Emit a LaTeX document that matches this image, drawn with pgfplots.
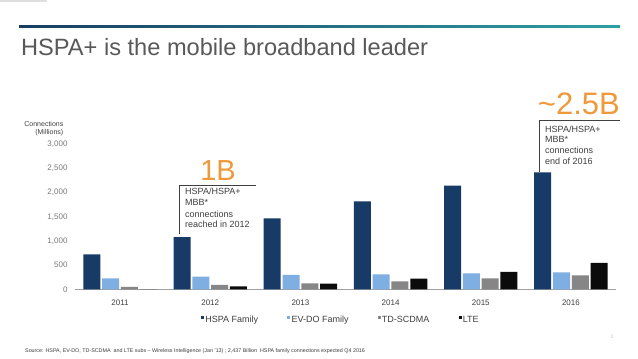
\documentclass[border=0pt]{standalone}
\usepackage{fontspec}
\setmainfont{Liberation Sans}
\usepackage{pgfplots}
\pgfplotsset{compat=1.18}
\definecolor{hspa}{HTML}{173B66}
\definecolor{evdo}{HTML}{7FAEE2}
\definecolor{tds}{HTML}{868686}
\definecolor{lte}{HTML}{0B0B0B}
\definecolor{orangeA}{HTML}{F0993A}
\definecolor{titlegray}{HTML}{595959}
\definecolor{txt}{HTML}{3F3F3F}
\definecolor{ticky}{HTML}{7A7A7A}
\definecolor{lineL}{HTML}{1C3C62}
\definecolor{lineR}{HTML}{2D9FA0}
\begin{document}
\begin{tikzpicture}
\fill[white] (0,0) rectangle (638bp,359bp);
\fill[gray!25] (0,357bp) rectangle (47bp,359bp);
\shade[left color=lineL, right color=lineR] (19bp,331.4bp) rectangle (620bp,333.4bp);
\node[anchor=base west, inner sep=0, text=titlegray, font=\fontsize{23.6bp}{27bp}\selectfont] at (21bp,303.3bp) {HSPA+ is the mobile broadband leader};

\begin{axis}[
  at={(75bp,69.7bp)}, anchor=south west,
  scale only axis, width=541bp, height=145bp,
  xmin=-0.5, xmax=5.5, ymin=0, ymax=3000,
  axis x line*=bottom, axis y line*=left,
  y axis line style={draw=none},
  x axis line style={-, draw=gray!75, line width=0.8bp},
  major tick length=0pt,
  xtick={0,1,2,3,4,5},
  xticklabels={2011,2012,2013,2014,2015,2016},
  ytick={0,500,1000,1500,2000,2500,3000},
  /pgf/number format/assume math mode=true,
  /pgf/number format/1000 sep={,},
  yticklabel style={font=\fontsize{8bp}{9bp}\selectfont, text=ticky, xshift=-4bp},
  xticklabel style={font=\fontsize{8bp}{9bp}\selectfont, text=txt, yshift=-7bp},
  legend columns=4,
  legend style={at={(axis description cs:0.5,0)}, anchor=center, xshift=-5bp, yshift=-30.7bp,
    draw=none, fill=none, font=\fontsize{9bp}{10bp}\selectfont, text=txt,
    /tikz/every even column/.append style={column sep=28bp},
    nodes={inner xsep=1.2bp, inner ysep=1bp}},
  legend image code/.code={\fill[#1] (0bp,0.6bp) rectangle (3bp,3.6bp);},
  clip=false,
]
\addplot[ybar, bar width=17bp, bar shift=-28.2bp, fill=hspa, draw=none]
  coordinates {(0,724) (1,1082) (2,1469) (3,1820) (4,2145) (5,2420)};
\addlegendentry{HSPA Family}
\addplot[ybar, bar width=17bp, bar shift=-9.4bp, fill=evdo, draw=none]
  coordinates {(0,228) (1,261) (2,296) (3,310) (4,331) (5,352)};
\addlegendentry{EV-DO Family}
\addplot[ybar, bar width=17bp, bar shift=9.4bp, fill=tds, draw=none]
  coordinates {(0,48) (1,89) (2,124) (3,166) (4,228) (5,290)};
\addlegendentry{TD-SCDMA}
\addplot[ybar, bar width=17bp, bar shift=28.2bp, fill=lte, draw=none]
  coordinates {(0,0) (1,62) (2,118) (3,221) (4,359) (5,545)};
\addlegendentry{LTE}
\end{axis}

% y axis title
\node[anchor=base east, inner sep=0, font=\fontsize{7bp}{8bp}\selectfont, text=txt] at (63.5bp,232.5bp) {Connections};
\node[anchor=base east, inner sep=0, font=\fontsize{7bp}{8bp}\selectfont, text=txt] at (63.5bp,224.5bp) {(Millions)};

% annotation 1
\node[anchor=base, inner sep=0, text=orangeA, font=\fontsize{29bp}{32bp}\selectfont] at (218bp,178.3bp) {1B};
\draw[txt, line width=0.7bp] (256bp,174bp) -- (179.3bp,174bp) -- (179.3bp,125bp);
\begin{scope}[every node/.style={anchor=base west, inner sep=0, text=txt, font=\fontsize{9bp}{10bp}\selectfont}]
\node at (185bp,164bp) {HSPA/HSPA+};
\node at (185bp,153bp) {MBB*};
\node at (185bp,141.3bp) {connections};
\node at (185bp,131.3bp) {reached in 2012};
\end{scope}

% annotation 2
\node[anchor=base east, inner sep=0, text=orangeA, font=\fontsize{31bp}{34bp}\selectfont] at (620bp,244bp) {\textasciitilde 2.5B};
\draw[txt, line width=0.7bp] (620bp,238.3bp) -- (539bp,238.3bp) -- (539bp,187bp);
\begin{scope}[every node/.style={anchor=base west, inner sep=0, text=txt, font=\fontsize{9bp}{10bp}\selectfont}]
\node at (545bp,226.3bp) {HSPA/HSPA+};
\node at (545bp,216bp) {MBB*};
\node at (545bp,205bp) {connections};
\node at (545bp,194bp) {end of 2016};
\end{scope}

% source and page number
\node[anchor=base west, inner sep=0, font=\fontsize{5.35bp}{6.5bp}\selectfont, text=txt] at (25bp,7bp) {Source: HSPA, EV-DO, TD-SCDMA\ \ and LTE subs -- Wireless Intelligence (Jan '13) ; 2,437 Billion\ \ HSPA family connections expected Q4 2016};
\node[inner sep=0, font=\fontsize{5bp}{6bp}\selectfont, text=gray!45] at (612bp,22bp) {3};
\end{tikzpicture}
\end{document}
